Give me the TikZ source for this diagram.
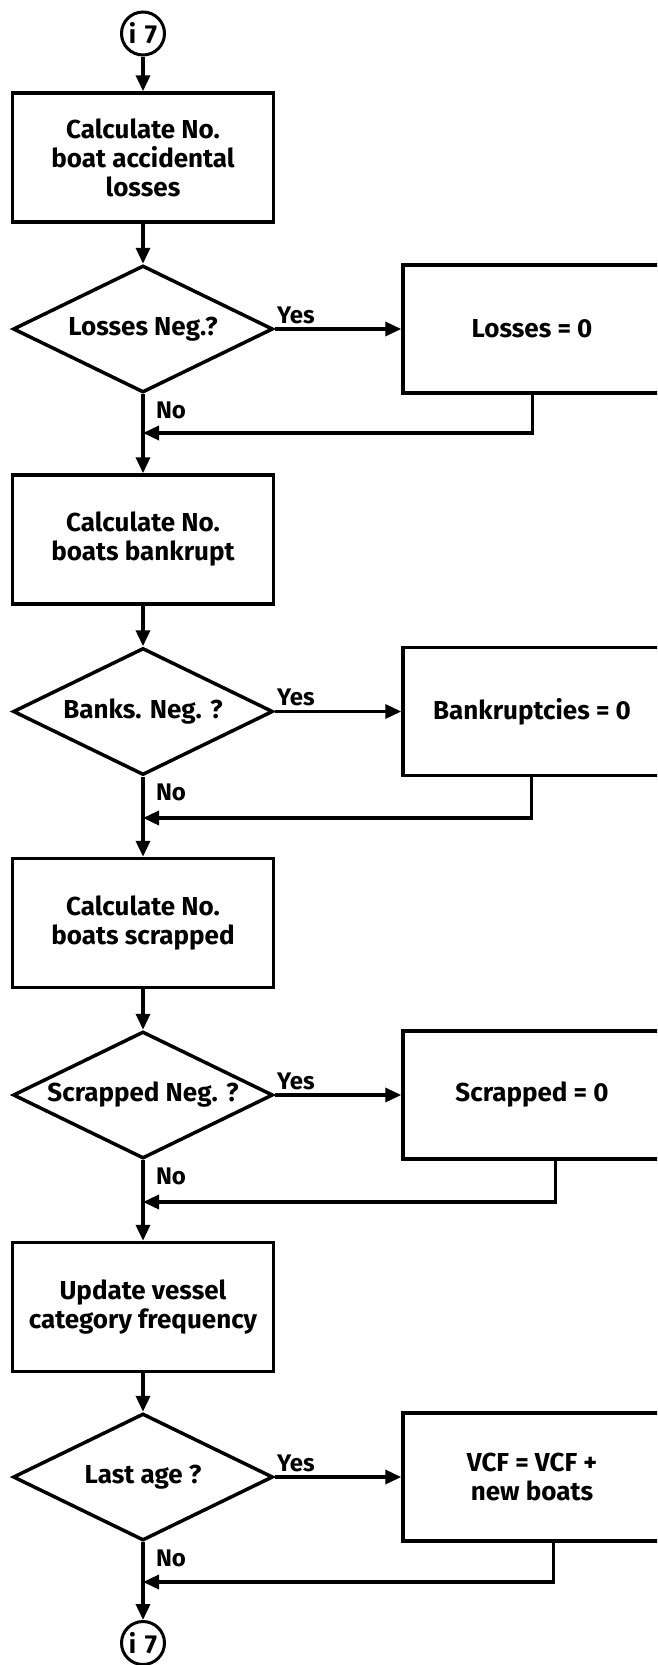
\documentclass[tikz,border=0pt]{standalone}
\usepackage{fontspec}
\setmainfont{Fira Sans}
\usetikzlibrary{arrows.meta,shapes.geometric,calc}

\tikzset{
  txt/.style={font=\fontsize{26}{29}\selectfont\bfseries},
  proc/.style={txt, draw, line width=3.5pt, minimum width=261pt, minimum height=129pt,
    inner sep=0pt, align=center},
  side/.style={txt, draw, line width=3.5pt, minimum width=258pt, minimum height=128pt,
    inner sep=0pt, align=center},
  decision/.style={txt, draw, diamond, line width=3.5pt, minimum width=260pt,
    minimum height=127pt, inner sep=0pt},
  conn/.style={txt, draw, circle, line width=3pt, minimum size=43pt, inner sep=0pt},
  flow/.style={line width=3.5pt, -{Triangle[length=16pt,width=14pt]}},
  tag/.style={font=\fontsize{24}{26}\selectfont\bfseries, inner sep=0pt},
}

\begin{document}
\begin{tikzpicture}[x=1pt, y=-1pt]
  \useasboundingbox (0,0) rectangle (657,1665);
  \clip (0,0) rectangle (657,1665);

  % main column
  \node[conn] (c1) at (143,33.5) {i\,\,7};
  \node[proc] (b1) at (143,157.5) {Calculate No.\\boat accidental\\losses};
  \node[decision] (d1) at (143,329) {\makebox[0pt]{Losses Neg.?}};
  \node[side] (r1) at (532,329) {Losses = 0};
  \coordinate (j1) at (143,433);

  \node[proc] (b2) at (143,539.5) {Calculate No.\\boats bankrupt};
  \node[decision] (d2) at (143,711.5) {\makebox[0pt]{Banks. Neg. ?}};
  \node[side] (r2) at (532,711.5) {Bankruptcies = 0};
  \coordinate (j2) at (143,818);

  \node[proc] (b3) at (143,923) {Calculate No.\\boats scrapped};
  \node[decision] (d3) at (143,1095) {\makebox[0pt]{Scrapped Neg. ?}};
  \node[side] (r3) at (532,1095) {Scrapped = 0};
  \coordinate (j3) at (143,1202);

  \node[proc] (b4) at (143,1307) {Update vessel\\category frequency};
  \node[decision] (d4) at (143,1477) {\makebox[0pt]{Last age ?}};
  \node[side] (r4) at (532,1477) {VCF = VCF +\\new boats};
  \coordinate (j4) at (143,1582);

  \node[conn] (c2) at (143,1643) {i\,\,7};

  % branch labels
  \foreach \d in {1,2,3,4}{
    \node[tag] (yes\d) at ($(d\d.center)+(153,-14)$) {Yes};
    \node[tag] (no\d) at ($(d\d.center)+(28,81)$) {No};
  }

  % vertical flow
  \draw[flow] (c1) -- (b1);
  \draw[flow] (b1) -- (d1);
  \draw[flow] (d1.south) -- (b2.north);
  \draw[flow] (b2) -- (d2);
  \draw[flow] (d2.south) -- (b3.north);
  \draw[flow] (b3) -- (d3);
  \draw[flow] (d3.south) -- (b4.north);
  \draw[flow] (b4) -- (d4);
  \draw[flow] (d4.south) -- (c2.north);

  % yes branches
  \foreach \d in {1,2,3,4}{
    \draw[flow] (d\d.east) -- (d\d.east -| r\d.west);
  }

  % returns into the main line
  \draw[flow] ([xshift=131pt]r1.south west) |- (j1);
  \draw[flow] ([xshift=130pt]r2.south west) |- (j2);
  \draw[flow] ([xshift=154pt]r3.south west) |- (j3);
  \draw[flow] ([xshift=152pt]r4.south west) |- (j4);
\end{tikzpicture}
\end{document}
